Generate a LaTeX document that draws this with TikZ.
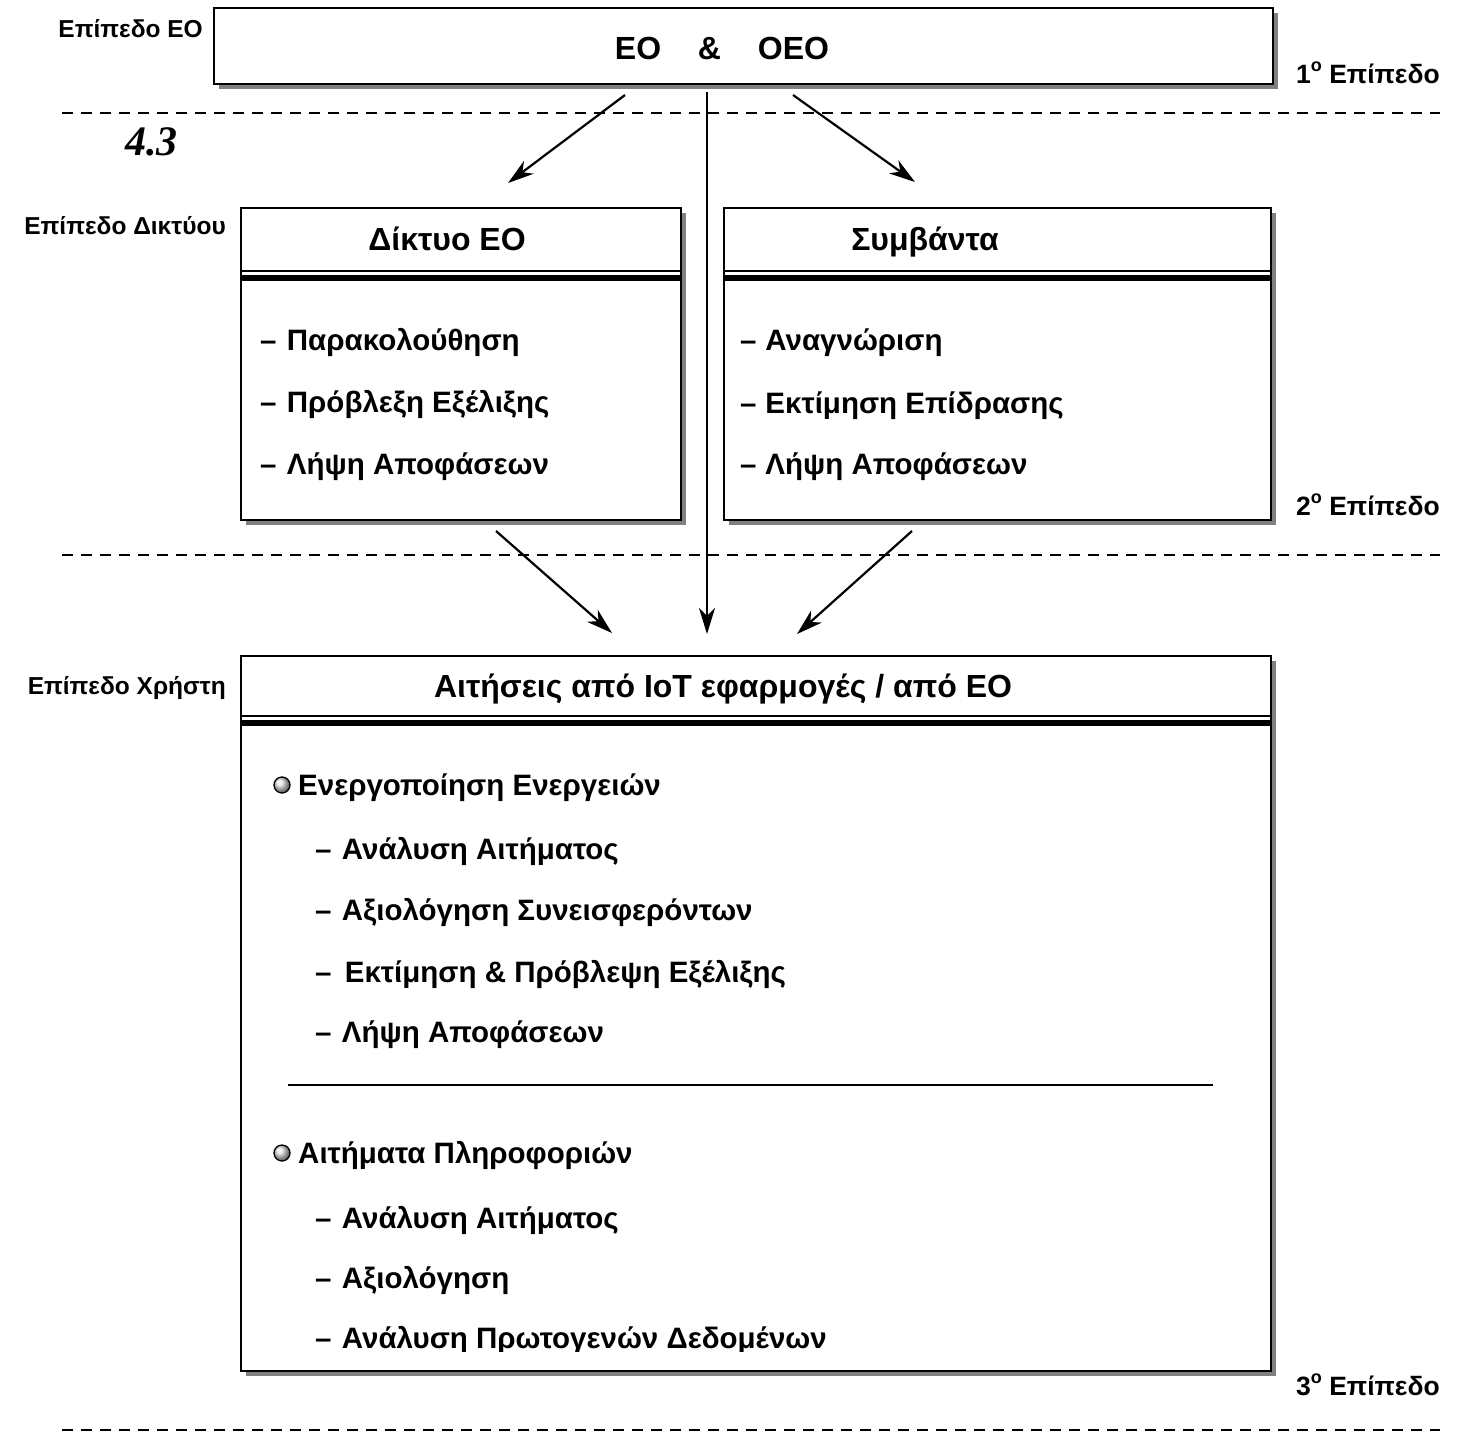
\documentclass[tikz,border=0pt]{standalone}
\usepackage{fontspec}
\setmainfont{Liberation Sans}
\newfontfamily\numfont{Liberation Serif}
\usetikzlibrary{arrows.meta,shadows}

\newcommand{\hdrfont}{\fontsize{32}{38}\selectfont\bfseries}
\newcommand{\itemfont}{\fontsize{29.5}{35}\selectfont\bfseries}
\newcommand{\lblfont}{\fontsize{24.5}{29}\selectfont\bfseries}
\newcommand{\lvlfont}{\fontsize{26.5}{31}\selectfont\bfseries}
\newcommand{\lvl}[1]{#1\raisebox{0.42em}{\fontsize{18}{21}\selectfont o}~Επίπεδο}

\begin{document}
\begin{tikzpicture}[x=1pt,y=-1pt,
  box/.style={draw, line width=2pt, fill=white, inner sep=0pt, anchor=north west,
    drop shadow={shadow xshift=5pt, shadow yshift=-5pt, fill=black!50, opacity=1}},
  hdr/.style={font=\hdrfont, anchor=base, inner sep=0pt},
  itm/.style={font=\itemfont, anchor=base west, inner sep=0pt},
  lbl/.style={font=\lblfont, anchor=base east, inner sep=0pt},
  lvllbl/.style={font=\lvlfont, anchor=base west, inner sep=0pt},
  sep/.style={dash pattern=on 11pt off 8pt, line width=2.6pt},
  thinrule/.style={line width=1.5pt},
  thickrule/.style={line width=6pt},
  arr/.style={line width=2.2pt, -{Stealth[length=26pt, width=16pt, inset=8pt]}},
  bullet/.style={circle, draw=black, line width=1.3pt, ball color=black!12, minimum size=16pt, inner sep=0pt}
]
\useasboundingbox (0,0) rectangle (1457,1435);

% level separators
\coordinate (s1a) at (62,113);   \coordinate (s1b) at (1440,113);
\coordinate (s2a) at (62,555);   \coordinate (s2b) at (1440,555);
\coordinate (s3a) at (62,1430);  \coordinate (s3b) at (1440,1430);
\draw[sep] (s1a) -- (s1b);
\draw[sep] (s2a) -- (s2b);
\draw[sep] (s3a) -- (s3b);

% level 1
\node[box, minimum width=1059pt, minimum height=76pt] (eo) at (213,7) {};
\node[hdr] (eot) at (722,59) {ΕΟ\hspace{1.15em}\&\hspace{1.15em}ΟΕΟ};
\node[lbl] (l1) at (203,37) {Επίπεδο ΕΟ};
\node[lvllbl] (n1) at (1296,83) {\lvl{1}};
\node[font=\numfont\fontsize{42}{48}\selectfont\bfseries\itshape, anchor=base west, inner sep=0pt] (sec) at (125,155) {4.3};

% level 2
\node[box, minimum width=440pt, minimum height=312pt] (net) at (240,207) {};
\node[box, minimum width=547pt, minimum height=312pt] (evt) at (723,207) {};
\draw[thinrule] (net.west |- 0,271) -- (net.east |- 0,271);
\draw[thickrule] (net.west |- 0,278) -- (net.east |- 0,278);
\draw[thinrule] (evt.west |- 0,271) -- (evt.east |- 0,271);
\draw[thickrule] (evt.west |- 0,278) -- (evt.east |- 0,278);
\node[hdr] (nett) at (447,250) {Δίκτυο ΕΟ};
\node[hdr] (evtt) at (925,250) {Συμβάντα};
\node[itm] (na) at (260,350) {–\hspace{0.35em}Παρακολούθηση};
\node[itm] (nb) at (260,412) {–\hspace{0.35em}Πρόβλεξη Εξέλιξης};
\node[itm] (nc) at (260,474) {–\hspace{0.35em}Λήψη Αποφάσεων};
\node[itm] (ea) at (740,350) {–\hspace{0.3em}Αναγνώριση};
\node[itm] (eb) at (740,413) {–\hspace{0.3em}Εκτίμηση Επίδρασης};
\node[itm] (ec) at (740,474) {–\hspace{0.3em}Λήψη Αποφάσεων};
\node[lbl] (l2) at (226,234) {Επίπεδο Δικτύου};
\node[lvllbl] (n2) at (1296,515) {\lvl{2}};

% level 3
\node[box, minimum width=1030pt, minimum height=715pt] (usr) at (240,655) {};
\draw[thinrule] (usr.west |- 0,716) -- (usr.east |- 0,716);
\draw[thickrule] (usr.west |- 0,723) -- (usr.east |- 0,723);
\node[hdr] (usrt) at (723,697) {Αιτήσεις από IoT εφαρμογές / από ΕΟ};
\node[lbl] (l3) at (226,694) {Επίπεδο Χρήστη};
\node[lvllbl] (n3) at (1296,1395) {\lvl{3}};

\node[bullet] (b1) at (282,785) {};
\node[itm] (g1) at (298,795) {Ενεργοποίηση Ενεργειών};
\node[itm] (g1a) at (315,859) {–\hspace{0.35em}Ανάλυση Αιτήματος};
\node[itm] (g1b) at (315,920) {–\hspace{0.35em}Αξιολόγηση Συνεισφερόντων};
\node[itm] (g1c) at (315,982) {–\hspace{0.45em}Εκτίμηση \& Πρόβλεψη Εξέλιξης};
\node[itm] (g1d) at (315,1042) {–\hspace{0.35em}Λήψη Αποφάσεων};

\coordinate (r1) at (288,1085);
\coordinate (r2) at (1213,1085);
\draw[line width=1.5pt] (r1) -- (r2);

\node[bullet] (b2) at (282,1153) {};
\node[itm] (g2) at (298,1163) {Αιτήματα Πληροφοριών};
\node[itm] (g2a) at (315,1228) {–\hspace{0.35em}Ανάλυση Αιτήματος};
\node[itm] (g2b) at (315,1288) {–\hspace{0.35em}Αξιολόγηση};
% the last line sits on the lower edge of its text area and loses its descenders
\begin{scope}
  \clip (250,1300) rectangle (1260,1351);
  \node[itm] (g2c) at (315,1348) {–\hspace{0.35em}Ανάλυση Πρωτογενών Δεδομένων};
\end{scope}

% connectors
\coordinate (a1s) at (625,95);  \coordinate (a1e) at (508,183);
\coordinate (a2s) at (707,92);  \coordinate (a2e) at (707,634);
\coordinate (a3s) at (793,95);  \coordinate (a3e) at (915,182);
\coordinate (a4s) at (496,531); \coordinate (a4e) at (612,633);
\coordinate (a5s) at (912,531); \coordinate (a5e) at (797,634);
\draw[arr] (a1s) -- (a1e);
\draw[arr] (a2s) -- (a2e);
\draw[arr] (a3s) -- (a3e);
\draw[arr] (a4s) -- (a4e);
\draw[arr] (a5s) -- (a5e);
\end{tikzpicture}
\end{document}
